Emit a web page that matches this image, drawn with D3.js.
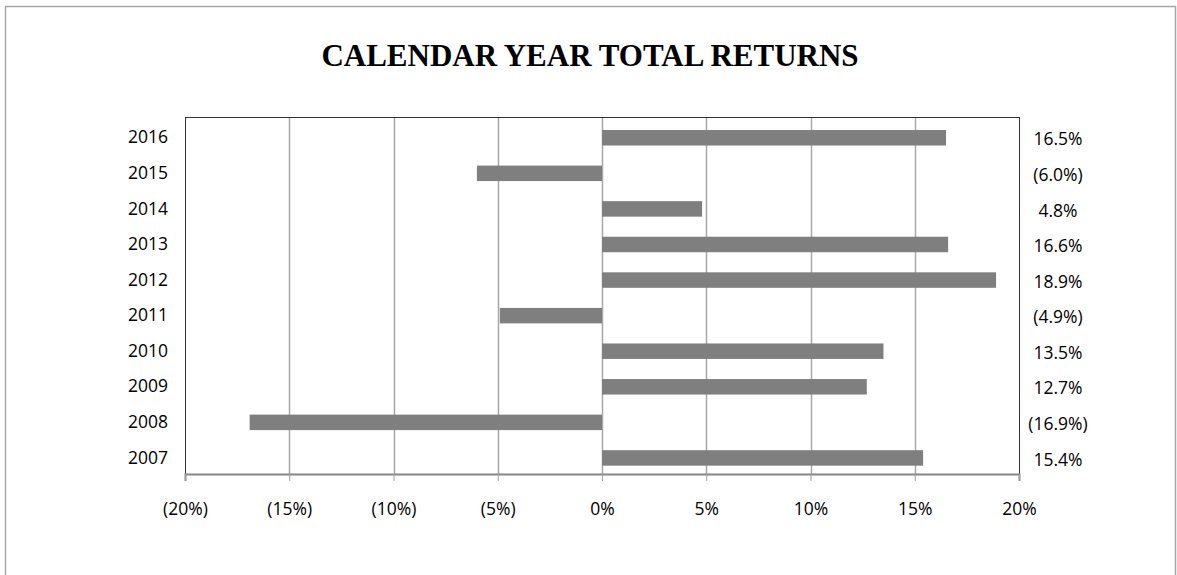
<!DOCTYPE html>
<html>
<head>
<meta charset="utf-8">
<script src="https://cdn.jsdelivr.net/npm/d3@7"></script>
<style>
  body { margin: 0; background: #fff; }
  text { font-family: "Open Sans", sans-serif; fill: #000; }
</style>
</head>
<body>
<div id="chart"></div>
<script>
/* Calendar year total returns - horizontal bar chart */

const years = ["2016", "2015", "2014", "2013", "2012", "2011", "2010", "2009", "2008", "2007"];
const returns = [16.5, -6.0, 4.8, 16.6, 18.9, -4.9, 13.5, 12.7, -16.9, 15.4];
const valueLabels = ["16.5%", "(6.0%)", "4.8%", "16.6%", "18.9%", "(4.9%)", "13.5%", "12.7%", "(16.9%)", "15.4%"];
const xTicks = [-20, -15, -10, -5, 0, 5, 10, 15, 20];

const width = 1177, height = 575,
    margin = ({ top: 117, right: 158, bottom: 101, left: 185 });

const data = years.map((y, i) => ({ year: y, value: returns[i], label: valueLabels[i] }));

const svg = d3.select("#chart")
    .append("svg")
    .attr("width", width)
    .attr("height", height);

/* outer frame */
svg.append("rect")
    .attr("x", 5.5).attr("y", 6.5)
    .attr("width", 1170).attr("height", 600)
    .attr("fill", "none")
    .attr("stroke", "#a6a6a6")
    .attr("stroke-width", 1.5);

/* title */
svg.append("text")
    .attr("x", 590)
    .attr("y", 66)
    .attr("text-anchor", "middle")
    .style("font-family", "'Liberation Serif', 'Times New Roman', serif")
    .style("font-weight", "bold")
    .style("font-size", "31px")
    .text("CALENDAR YEAR TOTAL RETURNS");

let x = d3.scaleLinear()
    .domain([-20, 20])
    .range([margin.left, width - margin.right]);

let y = d3.scaleBand()
    .domain(years)
    .range([margin.top, height - margin.bottom])
    .paddingInner(0.565)
    .paddingOuter(0.3)
    .align(0.61);

/* vertical gridlines */
svg.append("g")
    .selectAll("line")
    .data(xTicks.slice(1, -1))
    .join("line")
    .attr("x1", d => Math.round(x(d)) + 0.5)
    .attr("x2", d => Math.round(x(d)) + 0.5)
    .attr("y1", margin.top)
    .attr("y2", height - margin.bottom)
    .attr("stroke", "#a8a8a8")
    .attr("stroke-width", 1.5);

/* plot area border */
svg.append("rect")
    .attr("x", margin.left + 0.5)
    .attr("y", margin.top + 0.5)
    .attr("width", x(20) - x(-20))
    .attr("height", height - margin.bottom - margin.top)
    .attr("fill", "none")
    .attr("stroke", "#333")
    .attr("stroke-width", 1);

/* bars */
svg.append("g")
    .selectAll("rect")
    .data(data)
    .join("rect")
    .attr("x", d => x(Math.min(0, d.value)))
    .attr("width", d => Math.abs(x(d.value) - x(0)))
    .attr("y", d => y(d.year))
    .attr("height", y.bandwidth())
    .attr("fill", "#7f7f7f");

/* x axis */
let xAxis = svg.append("g")
    .attr("transform", `translate(0,${height - margin.bottom})`)
    .call(d3.axisBottom(x)
        .tickValues(xTicks)
        .tickSize(7)
        .tickPadding(22)
        .tickFormat(d => d < 0 ? `(${-d}%)` : `${d}%`));
xAxis.select(".domain").attr("stroke", "#868686").attr("stroke-width", 2);
xAxis.selectAll(".tick line").attr("stroke", "#a0a0a0");
xAxis.selectAll(".tick text")
    .style("font-family", "'Open Sans', sans-serif")
    .style("font-size", "17.5px");

/* y axis (year labels) */
let yAxis = svg.append("g")
    .attr("transform", `translate(${margin.left},0)`)
    .call(d3.axisLeft(y).tickSize(0).tickPadding(17));
yAxis.select(".domain").remove();
yAxis.selectAll(".tick text")
    .style("font-family", "'Open Sans', sans-serif")
    .style("font-size", "17.5px");

/* value labels on the right */
svg.append("g")
    .selectAll("text")
    .data(data)
    .join("text")
    .attr("x", 1058)
    .attr("y", d => y(d.year) + y.bandwidth() / 2 + 1.5)
    .attr("dy", "0.35em")
    .attr("text-anchor", "middle")
    .style("font-size", "17.5px")
    .text(d => d.label);
</script>
</body>
</html>
